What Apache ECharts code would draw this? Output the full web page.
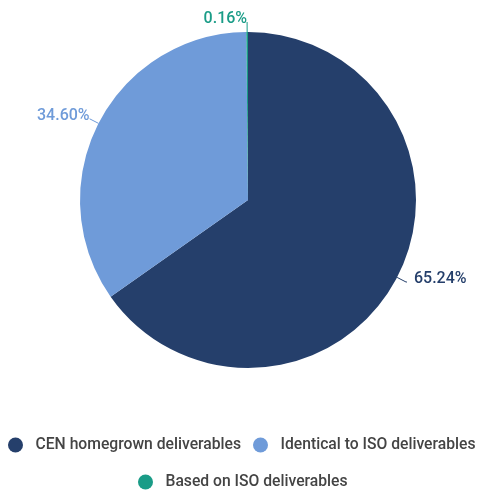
<!DOCTYPE html>
<html>
<head>
<meta charset="utf-8">
<script src="https://cdn.jsdelivr.net/npm/echarts@6/dist/echarts.min.js"></script>
<style>
html,body{margin:0;padding:0;background:#fff;}
#main{width:477px;height:492px;}
</style>
</head>
<body>
<div id="main"></div>
<script>
var names  = ['CEN homegrown deliverables', 'Identical to ISO deliverables', 'Based on ISO deliverables'];
var values = [65.24, 34.60, 0.16];
var colors = ['#253f6b', '#6f9bd9', '#1a9c87'];
var labelGap = [7, 0, 0];

var data = names.map(function(n, i){
    return {
        name: n,
        value: values[i],
        itemStyle: {color: colors[i]},
        label: {color: colors[i], distanceToLabelLine: labelGap[i]},
        labelLine: {lineStyle: {color: colors[i]}, length2: i === 0 ? 1 : 0}
    };
});

var legendText = {fontFamily: 'Roboto', fontSize: 15.7, fontWeight: 500, color: '#444'};
// one legend per item, placed like the original's two rows
var legendPos = [[8, 437], [253, 437], [138, 474]];
var legends = names.map(function(n, i){
    return {
        data: [n],
        left: legendPos[i][0],
        top: legendPos[i][1],
        padding: 0,
        icon: 'circle',
        itemWidth: 30,
        itemHeight: 15,
        textStyle: legendText
    };
});

var chart = echarts.init(document.getElementById('main'));
chart.setOption({
    backgroundColor: '#fff',
    legend: legends,
    series: [{
        type: 'pie',
        center: [248, 200],
        radius: [0, 168],
        startAngle: 90,
        clockwise: true,
        animation: false,
        label: {
            show: true,
            // empty second line lifts the text a little above the line end
            formatter: function(p){ return '{v|' + p.value.toFixed(2) + '%}\n{s|}'; },
            rich: {
                v: {fontFamily: 'Roboto', fontSize: 16, fontWeight: 500, lineHeight: 18},
                s: {lineHeight: 6, height: 6}
            },
            overflow: 'none'
        },
        labelLine: {show: true, length: 10},
        emphasis: {scale: false},
        data: data
    }]
});
</script>
</body>
</html>
